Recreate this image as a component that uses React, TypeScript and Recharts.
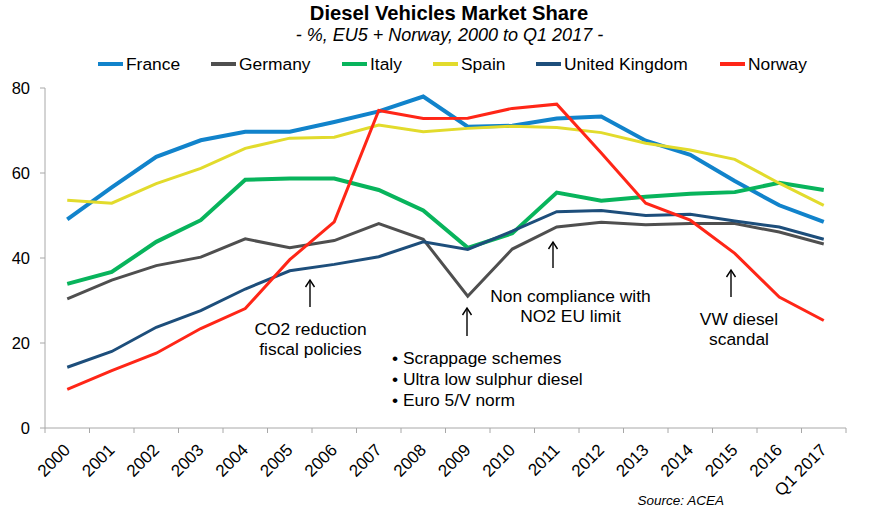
import { LineChart, Line, XAxis, YAxis } from 'recharts';

const years = [
  '2000', '2001', '2002', '2003', '2004', '2005', '2006', '2007', '2008',
  '2009', '2010', '2011', '2012', '2013', '2014', '2015', '2016', 'Q1 2017',
];

const france = [49.1, 56.6, 63.8, 67.7, 69.7, 69.7, 72.0, 74.5, 78.0, 70.9, 71.1, 72.8, 73.3, 67.6, 64.3, 58.1, 52.4, 48.5];
const germany = [30.4, 34.8, 38.2, 40.2, 44.5, 42.4, 44.1, 48.1, 44.4, 31.0, 42.1, 47.3, 48.4, 47.8, 48.1, 48.1, 46.1, 43.3];
const italy = [33.9, 36.7, 43.8, 48.9, 58.4, 58.7, 58.7, 56.0, 51.2, 42.4, 45.8, 55.4, 53.5, 54.4, 55.1, 55.5, 57.7, 56.0];
const spain = [53.6, 52.9, 57.5, 61.1, 65.8, 68.2, 68.4, 71.3, 69.7, 70.5, 71.0, 70.7, 69.5, 67.0, 65.4, 63.2, 57.6, 52.4];
const uk = [14.3, 18.0, 23.7, 27.6, 32.7, 37.0, 38.5, 40.3, 43.8, 42.0, 46.3, 50.9, 51.2, 50.0, 50.3, 48.7, 47.3, 44.4];
const norway = [9.1, 13.5, 17.6, 23.4, 28.1, 39.6, 48.5, 74.7, 72.8, 72.9, 75.2, 76.2, 64.7, 52.9, 48.9, 41.1, 30.8, 25.3];

const yTicks = [0, 20, 40, 60, 80];

const series = [
  { key: 'france', name: 'France', color: '#1183cb', width: 4, values: france },
  { key: 'germany', name: 'Germany', color: '#4f4f4f', width: 3, values: germany },
  { key: 'italy', name: 'Italy', color: '#08b45c', width: 4, values: italy },
  { key: 'spain', name: 'Spain', color: '#e2db2c', width: 3, values: spain },
  { key: 'uk', name: 'United Kingdom', color: '#1d4e7b', width: 3, values: uk },
  { key: 'norway', name: 'Norway', color: '#ff2617', width: 3, values: norway },
];

const rows = years.map((year, i) => {
  const row: Record<string, string | number> = { year };
  series.forEach((s) => {
    row[s.key] = s.values[i];
  });
  return row;
});

const W = 876;
const H = 512;
const LEFT = 45;
const RIGHT = 30;
const STEP = (W - LEFT - RIGHT) / years.length;
const FONT = '"Liberation Sans", Arial, Helvetica, sans-serif';
const AXIS_GREY = '#a8a8a8';
const TEXT_SIZE = 17.4;

// legend swatch start positions
const legendX = [98, 211, 342, 433, 536, 720];

function YearTick(props: any) {
  const { x, y, payload, index } = props;
  const last = index === years.length - 1;
  const tx = x + 4;
  const ty = y + 23;
  return (
    <g>
      <line x1={x - STEP / 2} x2={x - STEP / 2} y1={y} y2={y + 5} stroke={AXIS_GREY} />
      {last && <line x1={x + STEP / 2} x2={x + STEP / 2} y1={y} y2={y + 5} stroke={AXIS_GREY} />}
      <text
        x={tx}
        y={ty}
        transform={`rotate(-45 ${tx} ${ty})`}
        textAnchor="end"
        fontSize={17}
        fontFamily={FONT}
        fill="#000"
      >
        {payload.value}
      </text>
    </g>
  );
}

function Arrow({ x, top, bottom }: { x: number; top: number; bottom: number }) {
  return (
    <g stroke="#000" strokeWidth={1.4} fill="none">
      <line x1={x} x2={x} y1={top} y2={bottom} />
      <polyline points={`${x - 4.5},${top + 7} ${x},${top} ${x + 4.5},${top + 7}`} />
    </g>
  );
}

export default function App() {
  return (
    <div style={{ position: 'absolute', left: 0, top: 0, width: W, height: H, background: '#fff' }}>
      <LineChart width={W} height={H} data={rows} margin={{ top: 88, right: RIGHT, bottom: 0, left: 0 }}>
        <XAxis
          dataKey="year"
          interval={0}
          padding={{ left: STEP / 2, right: STEP / 2 }}
          height={84}
          tickLine={false}
          tickSize={0}
          tickMargin={0}
          axisLine={{ stroke: AXIS_GREY }}
          tick={<YearTick />}
        />
        <YAxis
          width={LEFT}
          domain={[0, 80]}
          ticks={yTicks}
          interval={0}
          tickSize={5}
          tickMargin={10}
          axisLine={{ stroke: AXIS_GREY }}
          tickLine={{ stroke: AXIS_GREY }}
          tick={{ fill: '#000', fontSize: 16.5, fontFamily: FONT }}
        />
        {series.map((s) => (
          <Line
            key={s.key}
            dataKey={s.key}
            name={s.name}
            type="linear"
            stroke={s.color}
            strokeWidth={s.width}
            dot={false}
            activeDot={false}
            isAnimationActive={false}
          />
        ))}
      </LineChart>

      <svg
        width={W}
        height={H}
        style={{ position: 'absolute', left: 0, top: 0, pointerEvents: 'none' }}
        fontFamily={FONT}
      >
        <text x={449} y={20} textAnchor="middle" fontSize={20.2} fontWeight="bold">
          Diesel Vehicles Market Share
        </text>
        <text x={449.5} y={41} textAnchor="middle" fontSize={18} fontStyle="italic">
          - %, EU5 + Norway, 2000 to Q1 2017 -
        </text>

        {series.map((s, i) => (
          <g key={s.key}>
            <line x1={legendX[i]} x2={legendX[i] + 25} y1={64} y2={64} stroke={s.color} strokeWidth={4} />
            <text x={legendX[i] + 28} y={70} fontSize={TEXT_SIZE}>
              {s.name}
            </text>
          </g>
        ))}

        <Arrow x={310} top={280} bottom={307} />
        <text x={310.5} y={335} textAnchor="middle" fontSize={TEXT_SIZE}>CO2 reduction</text>
        <text x={310.5} y={355} textAnchor="middle" fontSize={TEXT_SIZE}>fiscal policies</text>

        <Arrow x={467} top={308} bottom={336} />
        <text x={392} y={364} fontSize={TEXT_SIZE}>• Scrappage schemes</text>
        <text x={392} y={385} fontSize={TEXT_SIZE}>• Ultra low sulphur diesel</text>
        <text x={392} y={406} fontSize={TEXT_SIZE}>• Euro 5/V norm</text>

        <Arrow x={553} top={242} bottom={268} />
        <text x={570.5} y={302} textAnchor="middle" fontSize={TEXT_SIZE}>Non compliance with</text>
        <text x={570.5} y={322} textAnchor="middle" fontSize={TEXT_SIZE}>NO2 EU limit</text>

        <Arrow x={731} top={270} bottom={297} />
        <text x={739} y={325} textAnchor="middle" fontSize={TEXT_SIZE}>VW diesel</text>
        <text x={739} y={345} textAnchor="middle" fontSize={TEXT_SIZE}>scandal</text>

        <text x={724} y={505} textAnchor="end" fontSize={13.5} fontStyle="italic">
          Source: ACEA
        </text>
      </svg>
    </div>
  );
}
